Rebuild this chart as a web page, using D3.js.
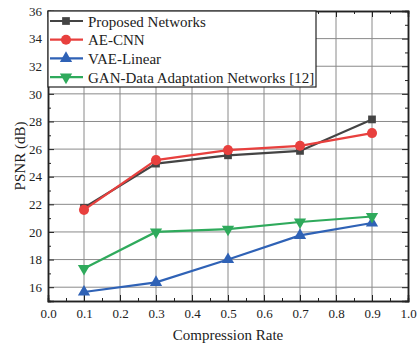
<!DOCTYPE html>
<html>
<head>
<meta charset="utf-8">
<script src="https://cdn.jsdelivr.net/npm/d3@7"></script>
<style>
  body { margin: 0; background: #fff; }
  text { font-family: "Liberation Serif", "Times New Roman", serif; }
</style>
</head>
<body>
<script>
// chart data
var rates = [0.1, 0.3, 0.5, 0.7, 0.9];
var proposed = [21.75, 24.95, 25.55, 25.87, 28.15];
var aecnn = [21.6, 25.2, 25.93, 26.24, 27.16];
var vaeLinear = [15.65, 16.35, 18.0, 19.75, 20.65];
var ganAdapt = [17.35, 20.0, 20.2, 20.72, 21.12];
var seriesNames = ["Proposed Networks", "AE-CNN", "VAE-Linear", "GAN-Data Adaptation Networks [12]"];
var xTicks = [0.0, 0.1, 0.2, 0.3, 0.4, 0.5, 0.6, 0.7, 0.8, 0.9, 1.0];
var yTicks = [16, 18, 20, 22, 24, 26, 28, 30, 32, 34, 36];

function drawChart() {
  var W = 420, H = 344;
  var pLeft = 48, pRight = 408, pTop = 11, pBottom = 301;

  var svg = d3.select("body").append("svg")
      .attr("width", W)
      .attr("height", H);

  var x = d3.scaleLinear().domain([0, 1]).range([pLeft, pRight]);
  var y = d3.scaleLinear().domain([15, 36]).range([pBottom, pTop]);

  // grid
  var grid = svg.append("g").attr("stroke", "#8a8a8a").attr("stroke-width", 1);
  grid.selectAll(".gx").data(xTicks.slice(1, -1)).enter().append("line")
      .attr("x1", d => x(d)).attr("x2", d => x(d))
      .attr("y1", pTop).attr("y2", pBottom);
  grid.selectAll(".gy").data(yTicks.slice(0, -1)).enter().append("line")
      .attr("x1", pLeft).attr("x2", pRight)
      .attr("y1", d => y(d)).attr("y2", d => y(d));

  // axes, ticks pointing inward
  var minorX = d3.range(0.05, 1, 0.1);
  var minorY = d3.range(15, 36, 2);

  svg.append("g").attr("transform", "translate(0," + pBottom + ")")
      .call(d3.axisBottom(x).tickValues(xTicks).tickSize(-6).tickPadding(8).tickFormat(d3.format(".1f")));
  svg.append("g").attr("transform", "translate(0," + pTop + ")")
      .call(d3.axisTop(x).tickValues(xTicks).tickSize(-6).tickFormat(""));
  svg.append("g").attr("transform", "translate(" + pLeft + ",0)")
      .call(d3.axisLeft(y).tickValues(yTicks).tickSize(-6).tickPadding(6));
  svg.append("g").attr("transform", "translate(" + pRight + ",0)")
      .call(d3.axisRight(y).tickValues(yTicks).tickSize(-6).tickFormat(""));

  svg.append("g").attr("transform", "translate(0," + pBottom + ")")
      .call(d3.axisBottom(x).tickValues(minorX).tickSize(-3).tickFormat(""));
  svg.append("g").attr("transform", "translate(0," + pTop + ")")
      .call(d3.axisTop(x).tickValues(minorX).tickSize(-3).tickFormat(""));
  svg.append("g").attr("transform", "translate(" + pLeft + ",0)")
      .call(d3.axisLeft(y).tickValues(minorY).tickSize(-3).tickFormat(""));
  svg.append("g").attr("transform", "translate(" + pRight + ",0)")
      .call(d3.axisRight(y).tickValues(minorY).tickSize(-3).tickFormat(""));

  svg.selectAll(".domain").attr("stroke", "#222").attr("stroke-width", 1.5);
  svg.selectAll(".tick line").attr("stroke", "#222");
  svg.selectAll(".tick text").attr("font-size", 13).attr("fill", "#222")
      .style("font-family", "'Liberation Serif', serif");

  // series
  var colors = ["#444444", "#e8403e", "#2f62b6", "#2faa5c"];
  var values = [proposed, aecnn, vaeLinear, ganAdapt];
  var shapes = [d3.symbolSquare, d3.symbolCircle, d3.symbolTriangle, d3.symbolTriangle];
  var sizes = [60, 80, 65, 65];
  var rot = [0, 0, 0, 180];

  var line = d3.line().x(d => x(d[0])).y(d => y(d[1]));

  values.forEach(function (vals, i) {
    var pts = rates.map((r, j) => [r, vals[j]]);
    svg.append("path").datum(pts)
        .attr("d", line)
        .attr("fill", "none")
        .attr("stroke", colors[i])
        .attr("stroke-width", 2.2);
    svg.selectAll(".m" + i).data(pts).enter().append("path")
        .attr("d", d3.symbol().type(shapes[i]).size(sizes[i]))
        .attr("transform", d => "translate(" + x(d[0]) + "," + y(d[1]) + ") rotate(" + rot[i] + ")")
        .attr("fill", colors[i]);
  });

  // legend
  var lg = svg.append("g");
  lg.append("rect")
      .attr("x", pLeft).attr("y", pTop)
      .attr("width", 316 - pLeft).attr("height", 87 - pTop)
      .attr("fill", "#fff").attr("stroke", "#222").attr("stroke-width", 1.2);
  seriesNames.forEach(function (name, i) {
    var ly = 21 + i * 18.7;
    lg.append("line")
        .attr("x1", 50).attr("x2", 83)
        .attr("y1", ly).attr("y2", ly)
        .attr("stroke", colors[i]).attr("stroke-width", 2.2);
    lg.append("path")
        .attr("d", d3.symbol().type(shapes[i]).size(sizes[i]))
        .attr("transform", "translate(66," + ly + ") rotate(" + rot[i] + ")")
        .attr("fill", colors[i]);
    lg.append("text")
        .attr("x", 88).attr("y", ly + 5.5)
        .attr("font-size", 15).attr("fill", "#222")
        .text(name);
  });

  // axis titles
  svg.append("text")
      .attr("x", (pLeft + pRight) / 2).attr("y", 340)
      .attr("text-anchor", "middle").attr("font-size", 15).attr("fill", "#222")
      .text("Compression Rate");
  svg.append("text")
      .attr("transform", "translate(25," + ((pTop + pBottom) / 2) + ") rotate(-90)")
      .attr("text-anchor", "middle").attr("font-size", 15).attr("fill", "#222")
      .text("PSNR (dB)");
}
drawChart();
</script>
</body>
</html>
